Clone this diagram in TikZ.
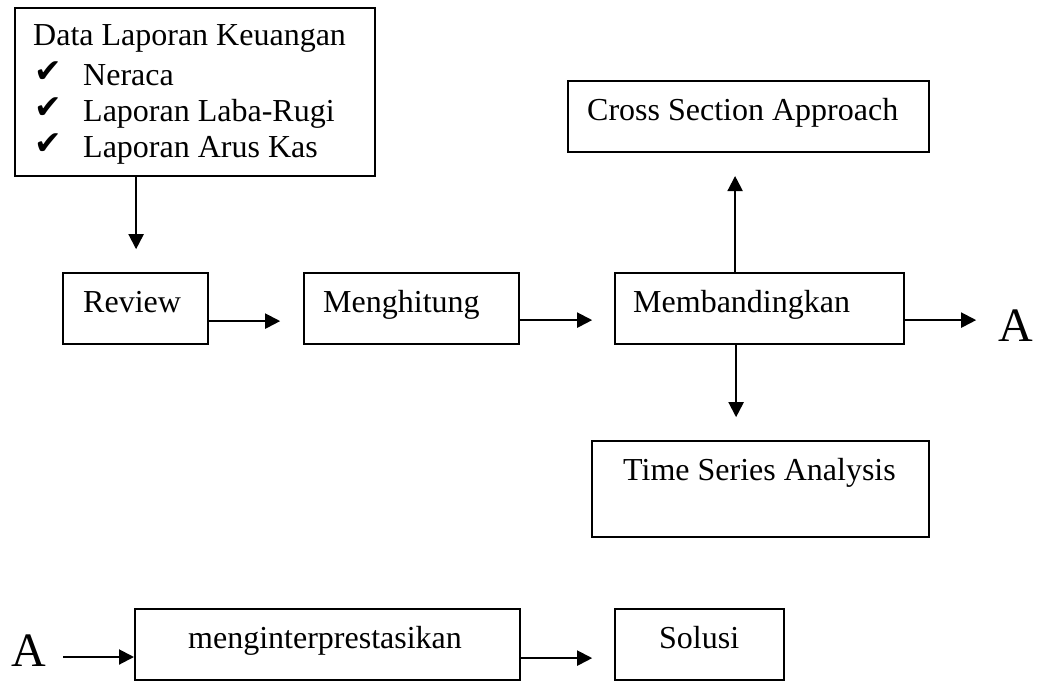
\documentclass[tikz,border=0pt]{standalone}
\usepackage{fontspec}
\setmainfont{Liberation Serif}
\newfontfamily\symbolfont{DejaVu Sans}
\usetikzlibrary{arrows.meta}
\tikzset{
  box/.style={draw, line width=2.2pt, rectangle, anchor=north west, inner sep=0pt},
  txt/.style={anchor=base west, inner sep=0pt, font=\fontsize{32}{38}\selectfont},
  bigtxt/.style={anchor=base west, inner sep=0pt, font=\fontsize{48}{56}\selectfont},
  tick/.style={anchor=base west, inner sep=0pt, font=\symbolfont\fontsize{33}{36}\selectfont},
  arr/.style={line width=2pt, -{Triangle[length=15pt,width=15pt]}}
}
\begin{document}
\begin{tikzpicture}[x=1pt,y=-1pt]
\useasboundingbox (0,0) rectangle (1037,681);

% input data box with its checklist
\node[box, minimum width=360pt, minimum height=168pt] (data) at (14,7) {};
\node[txt] (t0) at (33,45) {Data Laporan Keuangan};
\node[tick] (c1) at (34,82) {✔};
\node[txt] (t1) at (83,85) {Neraca};
\node[tick] (c2) at (34,118) {✔};
\node[txt] (t2) at (83,121) {Laporan Laba-Rugi};
\node[tick] (c3) at (34,154) {✔};
\node[txt] (t3) at (83,157) {Laporan Arus Kas};

% main process row
\node[box, minimum width=145pt, minimum height=71pt] (review) at (62,272) {};
\node[txt] (treview) at (83,312) {Review};
\node[box, minimum width=215pt, minimum height=71pt] (hitung) at (303,272) {};
\node[txt] (thitung) at (323,312) {Menghitung};
\node[box, minimum width=289pt, minimum height=71pt] (banding) at (614,272) {};
\node[txt] (tbanding) at (633,312) {Membandingkan};
\node[bigtxt] (aout) at (998,341) {A};

% comparison approaches
\node[box, minimum width=361pt, minimum height=71pt] (cross) at (567,80) {};
\node[txt] (tcross) at (587,120) {Cross Section Approach};
\node[box, minimum width=337pt, minimum height=96pt] (time) at (591,440) {};
\node[txt] (ttime) at (623,480) {Time Series Analysis};

% continuation row
\node[bigtxt] (ain) at (11,666) {A};
\node[box, minimum width=385pt, minimum height=71pt] (interp) at (134,608) {};
\node[txt] (tinterp) at (188,648) {menginterprestasikan};
\node[box, minimum width=169pt, minimum height=71pt] (solusi) at (614,608) {};
\node[txt] (tsolusi) at (659,648) {Solusi};

% connectors
\draw[arr] ([xshift=-59pt]data.south) -- ++(0,72);
\draw[arr] ([yshift=-12.5pt]review.east) -- ++(71,0);
\draw[arr] ([yshift=-11.5pt]hitung.east) -- ++(72,0);
\draw[arr] ([yshift=-11.5pt]banding.east) -- ++(71,0);
\draw[arr] ([xshift=-24.5pt]banding.north) -- ++(0,-96);
\draw[arr] ([xshift=-23.5pt]banding.south) -- ++(0,72);
\coordinate (astart) at ([xshift=17pt,yshift=9pt]ain.base east);
\draw[arr] (astart) -- (astart -| interp.west);
\draw[arr] ([yshift=-13.5pt]interp.east) -- ++(71,0);
\end{tikzpicture}
\end{document}
